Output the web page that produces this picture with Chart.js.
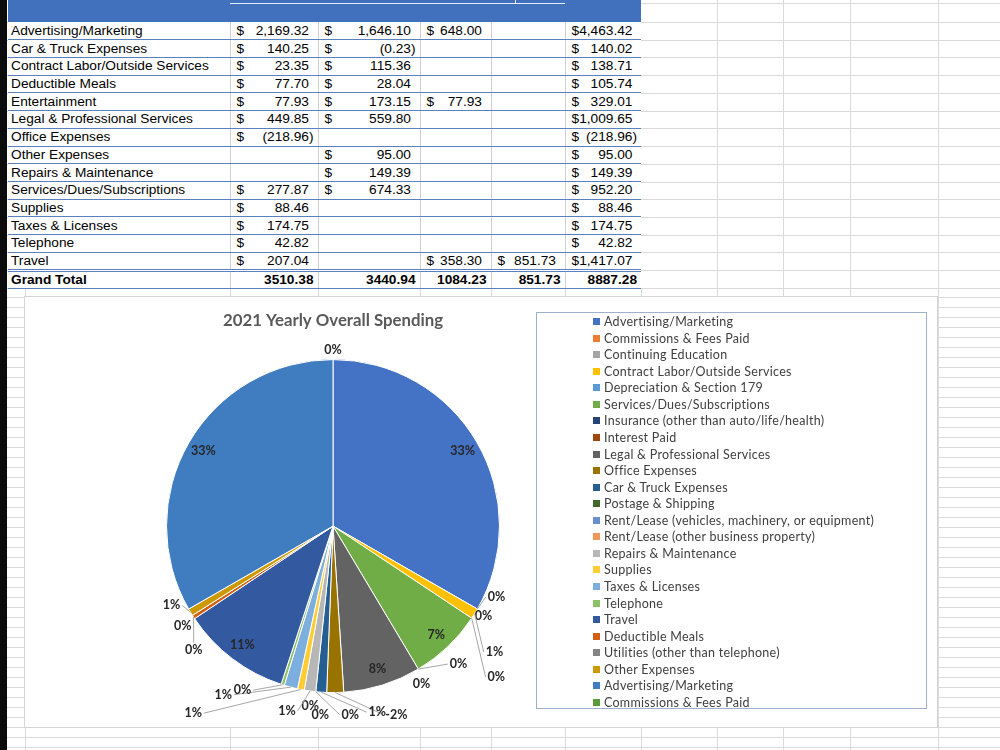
<!DOCTYPE html>
<html>
<head>
<meta charset="utf-8">
<script src="https://cdn.jsdelivr.net/npm/chart.js@4.4.0/dist/chart.umd.min.js"></script>
<style>
  body { margin: 0; width: 1000px; height: 750px; overflow: hidden; background: #fff; position: relative; }
  .gl { position: absolute; background: #dadada; }
  #strip { position: absolute; left: 0; top: 0; width: 7px; height: 750px; background: #0c0c0c; }
  #hdr { position: absolute; left: 8px; top: 0; width: 633px; height: 22px; background: #4170bd; }
  #tbl { position: absolute; left: 8px; top: 22px; border-collapse: collapse; table-layout: fixed;
         font-family: "Liberation Sans", Arial, sans-serif; font-size: 13.7px; color: #000; background: #fff; }
  #tbl td { height: 17.73px; padding: 0; border-bottom: 1px solid #5b80c0; border-left: 1px solid #d0d0d0;
            box-sizing: border-box; white-space: nowrap; line-height: 16px; }
  #tbl td.lab { padding-left: 3px; border-left: none; }
  #tbl td .m { display: flex; justify-content: space-between; padding: 0 4px 0 6px; }
  #tbl td .m i { visibility: hidden; font-style: normal; }
  #tbl tr.tot td { font-weight: bold; text-align: right; padding-right: 4px; border-top: 3px double #5b80c0; }
  #box { position: absolute; left: 25px; top: 297px; width: 912px; height: 430px; background: #fff;
         box-shadow: 0 0 0 1px #d4d4d4; }
  #pie { position: absolute; left: 0; top: 0; }
  #legend { position: absolute; left: 511px; top: 15px; width: 391px; height: 397px; box-sizing: border-box;
            border: 1px solid #9fb1c9; font-family: Lato, "Open Sans", sans-serif; font-size: 12.5px;
            letter-spacing: 0.28px; color: #404040; }
  #legend ul { list-style: none; margin: 0; padding: 1px 0 0 56px; }
  #legend li { height: 16.57px; line-height: 16.57px; white-space: nowrap; }
  #legend li span { display: inline-block; width: 7px; height: 7px; margin-right: 4px; vertical-align: 1px; }
</style>
</head>
<body>
<div id="strip"></div>
<div id="hdr"></div>
<table id="tbl"></table>
<div id="box">
  <canvas id="pie" width="912" height="430"></canvas>
  <div id="legend"><ul id="legendList"></ul></div>
</div>
<script>
// ---- spreadsheet data ----
const rowNames = ['Advertising/Marketing', 'Car & Truck Expenses', 'Contract Labor/Outside Services',
  'Deductible Meals', 'Entertainment', 'Legal & Professional Services', 'Office Expenses', 'Other Expenses',
  'Repairs & Maintenance', 'Services/Dues/Subscriptions', 'Supplies', 'Taxes & Licenses', 'Telephone', 'Travel'];
const period1 = [2169.32, 140.25, 23.35, 77.70, 77.93, 449.85, -218.96, null, null, 277.87, 88.46, 174.75, 42.82, 207.04];
const period2 = [1646.10, -0.23, 115.36, 28.04, 173.15, 559.80, null, 95.00, 149.39, 674.33, null, null, null, null];
const period3 = [648.00, null, null, null, 77.93, null, null, null, null, null, null, null, null, 358.30];
const period4 = [null, null, null, null, null, null, null, null, null, null, null, null, null, 851.73];
const rowTotals = [4463.42, 140.02, 138.71, 105.74, 329.01, 1009.65, -218.96, 95.00, 149.39, 952.20, 88.46, 174.75, 42.82, 1417.07];
const grandTotals = [3510.38, 3440.94, 1084.23, 851.73, 8887.28];

// ---- pie data ----
const sliceNames = ['Advertising/Marketing', 'Commissions & Fees Paid', 'Continuing Education',
  'Contract Labor/Outside Services', 'Depreciation & Section 179', 'Services/Dues/Subscriptions',
  'Insurance (other than auto/life/health)', 'Interest Paid', 'Legal & Professional Services', 'Office Expenses',
  'Car & Truck Expenses', 'Postage & Shipping', 'Rent/Lease (vehicles, machinery, or equipment)',
  'Rent/Lease (other business property)', 'Repairs & Maintenance', 'Supplies', 'Taxes & Licenses', 'Telephone',
  'Travel', 'Deductible Meals', 'Utilities (other than telephone)', 'Other Expenses', 'Advertising/Marketing',
  'Commissions & Fees Paid'];
const sliceValues = [4463.42, 0, 0, 138.71, 0, 952.20, 0, 0, 1009.65, -218.96, 140.02, 0, 0, 0, 149.39, 88.46,
  174.75, 42.82, 1417.07, 50.00, 0, 95.00, 4463.42, 0];

// styles
const sliceColors = ['#4472c4', '#ed7d31', '#a5a5a5', '#ffc000', '#5b9bd5', '#70ad47', '#264478', '#9e480e',
  '#636363', '#997300', '#255e91', '#43682b', '#698ed0', '#f1975a', '#b7b7b7', '#ffcd33', '#7cafdd', '#8cc168',
  '#335aa1', '#d26012', '#848484', '#cc9a00', '#3f7dc0', '#5a9a3a'];
// nudges for the small outside labels (dx, dy)
const labelShift = [[0,0],[7,-19],[-6,0],[8,31],[13,51],[0,0],[33,-17],[-4,3],[0,0],[61,8],[57,6],[36,9],[6,9],
  [-4,0],[-21,6],[-105,10],[-64,-6],[-36,-8],[0,0],[12,25],[2,3],[-7,-14],[0,0],[0,4]];

// ---- background grid ----
function gl(x, y, w, h) {
  const d = document.createElement('div');
  d.className = 'gl';
  Object.assign(d.style, { left: x + 'px', top: y + 'px', width: w + 'px', height: h + 'px' });
  document.body.insertBefore(d, document.body.firstChild);
}
const rowH = 17.73;
gl(641, 3, 359, 1);
for (let k = 0; k <= 15; k++) gl(0, Math.round(22 + k * rowH), 1000, 1);
for (let y = 297; y < 750; y += 10) gl(0, y, 1000, 1);
[717, 783, 850, 938].forEach(x => gl(x, 0, 1, 750));
[25, 230, 318, 420, 491, 565, 641].forEach(x => gl(x, 288, 1, 462));
// white header rule
const hr = document.createElement('div');
Object.assign(hr.style, { position: 'absolute', left: '222px', top: '3px', width: '335px', height: '1px', background: '#e8eef8' });
document.getElementById('hdr').appendChild(hr);
const tk = document.createElement('div');
Object.assign(tk.style, { position: 'absolute', left: '507px', top: '0px', width: '1px', height: '3px', background: '#e8eef8' });
document.getElementById('hdr').appendChild(tk);

// ---- table ----
const colW = [222, 88, 102, 71, 74, 76];
const fmt = v => Math.abs(v).toLocaleString('en-US', { minimumFractionDigits: 2, maximumFractionDigits: 2 });
const money = v => v == null ? '' :
  '<div class="m"><span>$</span><span>' + (v < 0 ? '(' + fmt(v) + ')' : fmt(v) + '<i>)</i>') + '</span></div>';
let html = '<colgroup>' + colW.map(w => '<col style="width:' + w + 'px">').join('') + '</colgroup>';
rowNames.forEach((n, i) => {
  html += '<tr><td class="lab">' + n + '</td>' +
    [period1, period2, period3, period4, rowTotals].map(c => '<td>' + money(c[i]) + '</td>').join('') + '</tr>';
});
html += '<tr class="tot"><td class="lab" style="text-align:left">Grand Total</td>' +
  grandTotals.map(v => '<td>' + v.toFixed(2) + '</td>').join('') + '</tr>';
document.getElementById('tbl').innerHTML = html;

// ---- percentage labels ----
const pctLabels = {
  id: 'pctLabels',
  afterDatasetsDraw(chart) {
    const ctx = chart.ctx;
    const vals = chart.data.datasets[0].data;
    const total = vals.reduce((s, v) => s + Math.abs(v), 0);
    ctx.save();
    ctx.font = 'bold 12.5px Lato';
    ctx.textAlign = 'center';
    ctx.textBaseline = 'middle';
    chart.getDatasetMeta(0).data.forEach((arc, i) => {
      const { x, y, startAngle, endAngle, outerRadius } =
        arc.getProps(['x', 'y', 'startAngle', 'endAngle', 'outerRadius'], true);
      const mid = (startAngle + endAngle) / 2;
      const share = vals[i] / total;
      const text = (Math.round(share * 100) || 0) + '%';
      const cx = Math.cos(mid), cy = Math.sin(mid);
      let lx, ly;
      if (Math.abs(share) >= 0.05) {
        lx = x + cx * outerRadius * 0.9;
        ly = y + cy * outerRadius * 0.9;
      } else {
        const [dx, dy] = labelShift[i];
        lx = x + cx * (outerRadius + 14) + dx;
        ly = y + cy * (outerRadius + 14) + dy;
        if (Math.hypot(dx, dy) > 15) {
          const ax = x + cx * outerRadius, ay = y + cy * outerRadius;
          const w = ctx.measureText(text).width / 2 + 2;
          let ex, ey;
          if (Math.abs(lx - ax) < w) { ex = lx; ey = ly - 7; }
          else { ex = lx < ax ? lx + w : lx - w; ey = ly; }
          ctx.strokeStyle = '#a6a6a6';
          ctx.lineWidth = 1;
          ctx.beginPath();
          ctx.moveTo(ax, ay);
          ctx.lineTo(ex, ey);
          ctx.stroke();
        }
      }
      ctx.fillStyle = '#262626';
      ctx.fillText(text, lx, ly);
    });
    ctx.restore();
  }
};

const chart = new Chart(document.getElementById('pie'), {
  type: 'pie',
  data: {
    labels: sliceNames,
    datasets: [{ data: sliceValues, backgroundColor: sliceColors, borderColor: '#fff', borderWidth: 1 }]
  },
  options: {
    responsive: false,
    animation: false,
    layout: { padding: { left: 141, right: 437, top: 0, bottom: 14 } },
    plugins: {
      legend: { display: false },
      tooltip: { enabled: false },
      title: {
        display: true,
        text: '2021 Yearly Overall Spending',
        color: '#595959',
        font: { family: 'Lato', size: 16.8, weight: 'bold' },
        padding: { top: 14, bottom: 8 }
      }
    }
  },
  plugins: [pctLabels]
});

// legend list from the chart's own labels and colours
document.getElementById('legendList').innerHTML = chart.data.labels.map((l, i) =>
  '<li><span style="background:' + sliceColors[i] + '"></span>' + l + '</li>').join('');
</script>
</body>
</html>
